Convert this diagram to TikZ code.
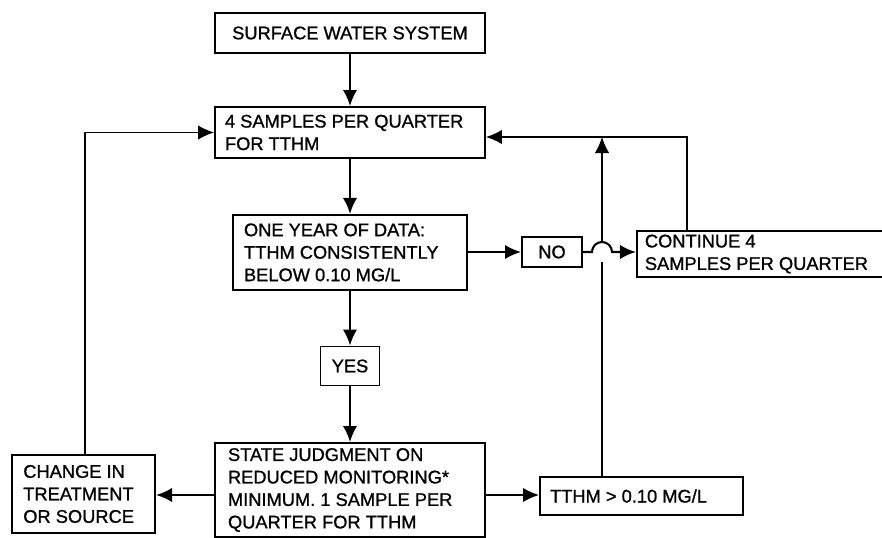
\documentclass[tikz,border=0pt]{standalone}
\usepackage{fontspec}
\setmainfont[FakeBold=1]{Liberation Sans}
\usepackage{tikz}
\usetikzlibrary{calc, arrows.meta, positioning}

\begin{document}
\begin{tikzpicture}[
    box/.style={draw, line width=1.4pt, inner xsep=0.25cm, inner ysep=2pt,
        font=\fontsize{13}{16}\selectfont, align=flush left},
    link/.style={-{Latex[length=4mm,width=3.6mm]}, line width=1.5pt},
    loop/.style={-{Latex[length=4mm,width=3.6mm]}, line width=0.9pt}]
    \useasboundingbox (0,0) rectangle (22.05,-13.45);

    % Vẽ các khối
    \node[box, text width=6.35cm, inner xsep=0.2cm, align=flush center, minimum height=1cm] (sws) at (8.75,-0.825) {SURFACE WATER SYSTEM};
    \node[box, text width=6.25cm, minimum height=1.275cm] (quart) at (8.75,-3.3125) {4 SAMPLES PER QUARTER\\FOR TTHM};
    \node[box, text width=5.3cm, inner xsep=0.275cm, minimum height=1.875cm] (year) at (8.75,-6.31) {ONE YEAR OF DATA:\\TTHM CONSISTENTLY\\BELOW 0.10 MG/L};
    \node[box, text width=1cm, align=flush center, minimum height=0.75cm] (no) at (13.8,-6.3) {NO};
    \node[box, text width=5.875cm, minimum height=1.15cm, inner xsep=0.2cm] (cont) at (19.06,-6.35) {CONTINUE 4\\SAMPLES PER QUARTER};
    \node[box, text width=0.975cm, align=flush center, minimum height=0.975cm] (yes) at (8.75,-9.15) {YES};
    \node[box, text width=6.1cm, minimum height=2.35cm, inner xsep=0.325cm] (state) at (8.75,-12.25) {STATE JUDGMENT ON\\REDUCED MONITORING*\\MINIMUM. 1 SAMPLE PER\\QUARTER FOR TTHM};
    \node[box, text width=3.015cm, minimum height=1.95cm, inner xsep=0.28cm] (chg) at (2.09,-12.35) {CHANGE IN\\TREATMENT\\OR SOURCE};
    \node[box, text width=4.575cm, minimum height=0.95cm] (tthm) at (16.04,-12.4) {TTHM > 0.10 MG/L};

    % Các mũi tên chính
    \draw[link] (sws) -- (quart);
    \draw[link] (quart) -- (year);
    \draw[link] (year.east |- no) -- (no);
    \draw[link] (no.east) -- (14.8,-6.3) arc[start angle=180, end angle=0, radius=0.25] -- (cont.west |- no);
    \draw[link] (year) -- (yes);
    \draw[link] (yes) -- (state);
    \draw[link] (state.west |- 0,-12.375) -- (chg.east |- 0,-12.375);
    \draw[link] (state.east |- 0,-12.375) -- (tthm.west |- 0,-12.375);

    % Các vòng lặp
    \coordinate (rj) at (17.175,-3.425);
    \draw[loop] (chg.north -| 2.125,0) |- (quart.west);
    \draw[loop] (cont.north -| rj) -- (rj) -- (rj -| quart.east);
    \draw[line width=0.9pt] (tthm.north -| 15.05,0) -- (15.05,-6.55);
    \draw[loop] (15.05,-6.05) -- (15.05,-3.425);
\end{tikzpicture}
\end{document}
